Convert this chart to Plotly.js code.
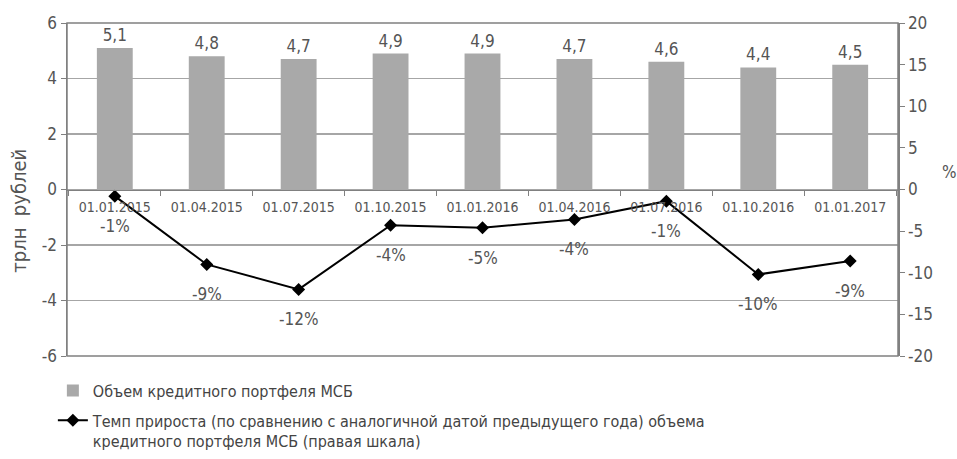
<!DOCTYPE html>
<html>
<head>
<meta charset="utf-8">
<script src="https://cdn.plot.ly/plotly-3.0.1.min.js"></script>
<style>
html,body{margin:0;padding:0;background:#fff;}
#chart{width:957px;height:459px;}
</style>
</head>
<body>
<div id="chart"></div>
<script>
const categories = ["01.01.2015","01.04.2015","01.07.2015","01.10.2015","01.01.2016","01.04.2016","01.07.2016","01.10.2016","01.01.2017"];
const portfolioVolume = [5.1, 4.8, 4.7, 4.9, 4.9, 4.7, 4.6, 4.4, 4.5];
const growthRate = [-0.8, -9.0, -12.0, -4.3, -4.6, -3.6, -1.4, -10.2, -8.6];
const growthLabels = ["-1%","-9%","-12%","-4%","-5%","-4%","-1%","-10%","-9%"];
const leftTicks = [-6, -4, -2, 0, 2, 4, 6];
const leftTickText = ["-6", "-4", "-2", "0", "2", "4", "6"];
const rightTicks = [-20, -15, -10, -5, 0, 5, 10, 15, 20];
const rightTickText = ["-20", "-15", "-10", "-5", "0", "5", "10", "15", "20"];
const barName = "Объем кредитного портфеля МСБ";
const lineName = "Темп прироста (по сравнению с аналогичной датой предыдущего года) объема<br>кредитного портфеля МСБ (правая шкала)";

const FONT = "DejaVu Sans Condensed, DejaVu Sans, sans-serif";
const TXT = "#555555";
const AX = "#808080";

const traces = [
  {
    type: "bar", name: barName, x: categories, y: portfolioVolume,
    legendgroup: "a",
    marker: {color: "#a9a9a9"},
    texttemplate: "%{y:.1f}", textposition: "outside", cliponaxis: false,
    textfont: {family: FONT, size: 17, color: TXT},
    yaxis: "y"
  },
  {
    type: "scatter", mode: "lines+markers", name: lineName, x: categories, y: growthRate,
    legendgroup: "b",
    line: {color: "#000000", width: 2},
    marker: {symbol: "diamond", size: 10, color: "#000000"},
    yaxis: "y2"
  }
];

const annotations = categories.map((c, i) => ({
  x: c, y: growthRate[i], xref: "x", yref: "y2", text: growthLabels[i],
  showarrow: false, yshift: -30, font: {family: FONT, size: 17, color: TXT}
}));
annotations.push({
  xref: "paper", yref: "paper", x: -0.057, y: 0.435, text: "трлн  рублей", textangle: -90,
  showarrow: false, xanchor: "center", yanchor: "middle",
  font: {family: FONT, size: 20, color: TXT}
});
annotations.push({
  xref: "paper", yref: "paper", x: 1.062, y: 0.553, text: "%",
  showarrow: false, xanchor: "center", yanchor: "middle",
  font: {family: FONT, size: 17, color: TXT}
});

const layout = {
  width: 957, height: 459,
  margin: {l: 67, r: 59, t: 23, b: 103, autoexpand: false},
  paper_bgcolor: "#ffffff", plot_bgcolor: "#ffffff",
  separators: ", ",
  bargap: 0.61,
  showlegend: true,
  legend: {
    x: -0.017, y: -0.053, xanchor: "left", yanchor: "top",
    orientation: "v", valign: "top", traceorder: "grouped", tracegroupgap: 6,
    font: {family: FONT, size: 16, color: "#444444"},
    bgcolor: "rgba(0,0,0,0)"
  },
  xaxis: {
    type: "category", anchor: "free", position: 0.5, tickangle: 0,
    showline: true, linecolor: AX, linewidth: 1.5,
    ticks: "outside", tickson: "boundaries", ticklen: 5, tickcolor: AX,
    ticklabelstandoff: 4,
    showgrid: false, zeroline: false,
    tickfont: {family: FONT, size: 14, color: TXT}
  },
  yaxis: {
    range: [-6, 6], tickvals: leftTicks, ticktext: leftTickText,
    showline: true, linecolor: AX, linewidth: 1.5,
    ticks: "outside", ticklen: 5, tickcolor: AX,
    showgrid: true, gridcolor: "#a6a6a6", gridwidth: 1.2, zeroline: false,
    tickfont: {family: FONT, size: 17, color: TXT}
  },
  yaxis2: {
    range: [-20, 20], tickvals: rightTicks, ticktext: rightTickText,
    overlaying: "y", side: "right",
    showline: true, linecolor: AX, linewidth: 1.5,
    ticks: "outside", ticklen: 5, tickcolor: AX,
    showgrid: false, zeroline: false,
    tickfont: {family: FONT, size: 17, color: TXT}
  },
  shapes: [
    {type: "rect", xref: "paper", yref: "paper", x0: 0, x1: 1, y0: 0, y1: 1,
     line: {color: AX, width: 1.5}, fillcolor: "rgba(0,0,0,0)", layer: "above"}
  ],
  annotations: annotations
};

Plotly.newPlot("chart", traces, layout, {displayModeBar: false, staticPlot: true});
</script>
</body>
</html>
